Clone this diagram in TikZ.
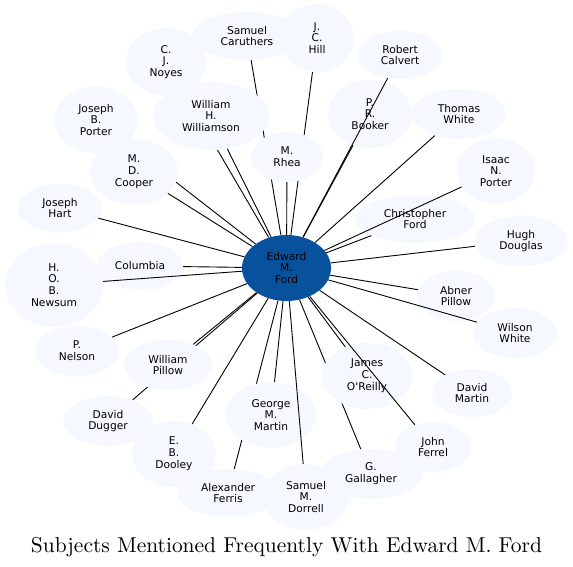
\documentclass[tikz,border=0pt]{standalone}
\usepackage{fontspec}
\usepackage{graphicx}
\newfontfamily\labelfont{DejaVu Sans}
\usetikzlibrary{shapes.geometric}
\definecolor{nodefill}{HTML}{F5F9FF}
\definecolor{centerfill}{HTML}{08519C}
\pgfdeclarelayer{back}
\pgfsetlayers{back,main}
\begin{document}
\begin{tikzpicture}[x=1pt,y=-1pt,
  person/.style={ellipse, fill=nodefill, inner sep=0pt, align=center,
    font=\labelfont\fontsize{10.67}{11.8}\selectfont},
  hub/.style={person, fill=centerfill},
  link/.style={black, line width=0.9pt}]
\useasboundingbox (0,0) rectangle (573,567);
% nodes
\node[person, minimum width=110pt, minimum height=48pt] (caruthers) at (247,36) {Samuel\\Caruthers};
\node[person, minimum width=74pt, minimum height=68pt] (hill) at (317,38) {J.\\C.\\Hill};
\node[person, minimum width=80pt, minimum height=68pt] (noyes) at (166,62) {C.\\J.\\Noyes};
\node[person, minimum width=84pt, minimum height=48pt] (calvert) at (400,55) {Robert\\Calvert};
\node[person, minimum width=116pt, minimum height=68pt] (williamson) at (211,116) {William\\H.\\Williamson};
\node[person, minimum width=84pt, minimum height=66pt] (jbporter) at (96,120) {Joseph\\B.\\Porter};
\node[person, minimum width=84pt, minimum height=68pt] (booker) at (370,114) {P.\\R.\\Booker};
\node[person, minimum width=94pt, minimum height=50pt] (twhite) at (459,114) {Thomas\\White};
\node[person, minimum width=72pt, minimum height=50pt] (rhea) at (287,157) {M.\\Rhea};
\node[person, minimum width=88pt, minimum height=66pt] (cooper) at (134,172) {M.\\D.\\Cooper};
\node[person, minimum width=78pt, minimum height=66pt] (inporter) at (496,171) {Isaac\\N.\\Porter};
\node[person, minimum width=84pt, minimum height=48pt] (hart) at (60,208) {Joseph\\Hart};
\node[person, minimum width=120pt, minimum height=48pt] (cford) at (415,219) {Christopher\\Ford};
\node[person, minimum width=94pt, minimum height=50pt] (douglas) at (521,241) {Hugh\\Douglas};
\node[person, minimum width=86pt, minimum height=48pt] (columbia) at (140,266) {Columbia};
\node[person, minimum width=98pt, minimum height=84pt] (newsum) at (54,285) {H.\\O.\\B.\\Newsum};
\node[person, minimum width=78pt, minimum height=50pt] (apillow) at (456,296) {Abner\\Pillow};
\node[person, minimum width=84pt, minimum height=50pt] (wwhite) at (515,333) {Wilson\\White};
\node[person, minimum width=84pt, minimum height=50pt] (nelson) at (77,351) {P.\\Nelson};
\node[person, minimum width=88pt, minimum height=50pt] (wpillow) at (168,365) {William\\Pillow};
\node[person, minimum width=90pt, minimum height=66pt] (oreilly) at (367,376) {James\\C.\\O'Reilly};
\node[person, minimum width=80pt, minimum height=48pt] (dmartin) at (472,393) {David\\Martin};
\node[person, minimum width=90pt, minimum height=50pt] (dugger) at (108,421) {David\\Dugger};
\node[person, minimum width=90pt, minimum height=66pt] (gmartin) at (271,415) {George\\M.\\Martin};
\node[person, minimum width=76pt, minimum height=50pt] (ferrel) at (433,447) {John\\Ferrel};
\node[person, minimum width=84pt, minimum height=66pt] (dooley) at (174,454) {E.\\B.\\Dooley};
\node[person, minimum width=102pt, minimum height=50pt] (gallagher) at (371,474) {G.\\Gallagher};
\node[person, minimum width=100pt, minimum height=48pt] (ferris) at (228,493) {Alexander\\Ferris};
\node[person, minimum width=86pt, minimum height=66pt] (dorrell) at (306,497) {Samuel\\M.\\Dorrell};
\node[hub, minimum width=89pt, minimum height=66pt] (E) at (286.5,268) {Edward\\M.\\Ford};
% edges hidden under other nodes
\begin{pgfonlayer}{back}
\foreach \t in {caruthers,noyes,hill,jbporter,gallagher,ferris,dugger}
  \draw[link] (E) -- (\t);
\end{pgfonlayer}
% edges drawn over nodes
\foreach \t in {calvert,williamson,booker,twhite,rhea,cooper,inporter,hart,cford,douglas,columbia,newsum,apillow,wwhite,nelson,wpillow,oreilly,dmartin,gmartin,ferrel,dooley,dorrell}
  \draw[link] (E) -- (\t);
% title
\node[anchor=base, inner sep=0pt] (title) at (286.5,552) {\resizebox{511pt}{!}{Subjects Mentioned Frequently With Edward M. Ford}};
\end{tikzpicture}
\end{document}
